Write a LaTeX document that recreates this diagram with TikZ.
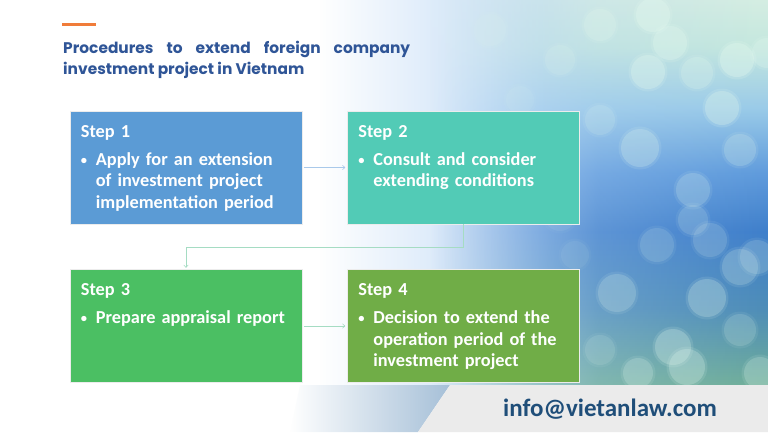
\documentclass[tikz,border=0pt]{standalone}
\usepackage{fontspec}
\setmainfont{Carlito}
\newfontfamily\titlefont{Poppins}
\usetikzlibrary{arrows.meta,fadings}
\definecolor{cOne}{HTML}{5B9BD5}
\definecolor{cTwo}{HTML}{52CBB6}
\definecolor{cThree}{HTML}{4BBF63}
\definecolor{cFour}{HTML}{70AD47}
\definecolor{titleblue}{HTML}{2F5597}
\definecolor{mailblue}{HTML}{1F4E79}
\definecolor{orangeline}{HTML}{F07C3A}
\definecolor{skyA}{HTML}{A9CCF3}
\definecolor{bandgray}{HTML}{EBEBEB}
\definecolor{arrowblue}{HTML}{A9C9EA}
\definecolor{arrowgreen}{HTML}{A5DCC3}
\definecolor{bokehc}{HTML}{E2F8EE}
\definecolor{stripblue}{HTML}{A6C0D8}
\definecolor{shA}{HTML}{6FAE98}
\definecolor{shB}{HTML}{4E8DB8}
\definecolor{shC}{HTML}{3F7FCB}
\definecolor{shD}{HTML}{5F9BDC}
\definecolor{shE}{HTML}{9ACBE8}
\definecolor{shF}{HTML}{C5E8DE}
\definecolor{shG}{HTML}{D5EEE2}
\pgfdeclareverticalshading{bkshade}{100bp}{color(0bp)=(shA); color(25bp)=(shA); color(35bp)=(shB); color(45bp)=(shC); color(52.5bp)=(shD); color(61bp)=(shE); color(69bp)=(shF); color(75bp)=(shG); color(100bp)=(shG)}
\tikzfading[name=fadeleft, left color=transparent!100, right color=transparent!0, middle color=transparent!25]
\tikzfading[name=fadestrip, left color=transparent!100, right color=transparent!0]
\newcommand\stepitem[1]{\par\vspace{6.5pt}\noindent\makebox[15pt][l]{\raisebox{1.2pt}{\fontsize{12.5}{12.5}\selectfont\textbullet}}\parbox[t]{205pt}{\raggedright #1}}
\tikzset{
  stepbox/.style={draw=white!85!gray, line width=0.6pt, minimum width=232pt, minimum height=113pt, inner sep=0pt},
  steptext/.style={anchor=north west, inner sep=0pt, text width=225pt, text=white, font=\fontsize{18.3}{21.5}\selectfont\bfseries},
  conn/.style={line width=0.6pt, -{To[length=3pt,width=5pt]}},
  bokeh/.style={fill=bokehc, draw=none},
  titletext/.style={anchor=base west, inner sep=0pt, text=titleblue, font=\titlefont\bfseries\fontsize{15.4}{18}\selectfont},
}
\begin{document}
\begin{tikzpicture}[x=1pt,y=-1pt]
\useasboundingbox (0,0) rectangle (768,432);
\fill[white] (0,0) rectangle (768,432);
% background bokeh area
\fill[skyA, path fading=fadeleft] (320,0) rectangle (768,385);
\shade[shading=bkshade, path fading=fadeleft] (430,0) rectangle (768,385);
\foreach \x/\y/\r/\o in {
  653/15/17/0.35, 670/43/17/0.3, 737/60/17/0.35, 648/72/17/0.3, 697/73/16/0.22, 767/53/15/0.25,
  722/108/17/0.28, 640/148/19/0.22, 693/190/17/0.18, 600/25/16/0.22, 560/60/15/0.14, 490/30/16/0.1,
  520/100/14/0.08, 600/120/15/0.14, 740/150/16/0.18,
  693/220/15/0.14, 657/245/17/0.13, 710/240/17/0.14, 740/267/18/0.18, 757/257/17/0.15,
  617/293/19/0.18, 707/298/19/0.22, 673/347/18/0.24, 687/367/18/0.24, 638/373/15/0.2, 760/373/16/0.2,
  560/215/16/0.07, 575/255/14/0.07, 600/350/15/0.12, 740/330/16/0.15}
  {\fill[bokeh, opacity=\o] (\x,\y) circle (\r);
   \fill[bokeh, opacity=0.5*\o] (\x,\y) circle (\r+2.5);}
% bottom band
\fill[stripblue, path fading=fadestrip] (300,385) -- (450,385) -- (418,432) -- (290,432) -- cycle;
\fill[bandgray] (450,385) -- (768,385) -- (768,432) -- (418,432) -- cycle;
% title
\draw[orangeline, line width=3pt] (62,24) -- (96,24);
\node[titletext] (title1) at (63,53) {\makebox[347pt][s]{Procedures to extend foreign company}};
\node[titletext] (title2) at (63,74) {investment project in Vietnam};
% boxes
\node[stepbox, fill=cOne] (s1) at (186,167.5) {};
\node[stepbox, fill=cTwo] (s2) at (463.5,167.5) {};
\node[stepbox, fill=cThree] (s3) at (186,326) {};
\node[stepbox, fill=cFour] (s4) at (463.5,326) {};
\node[steptext] (t1) at ([shift={(11,14.5)}]s1.north west) {Step 1\stepitem{Apply for an extension\\ of investment project\\ implementation period}};
\node[steptext] (t2) at ([shift={(11,14.5)}]s2.north west) {Step 2\stepitem{Consult and consider\\ extending conditions}};
\node[steptext] (t3) at ([shift={(11,14.5)}]s3.north west) {Step 3\stepitem{Prepare appraisal report}};
\node[steptext] (t4) at ([shift={(11,14.5)}]s4.north west) {Step 4\stepitem{Decision to extend the\\ operation period of the\\ investment project}};
% connectors
\draw[conn, arrowblue, shorten <=1.5pt, shorten >=2pt] (s1.east) -- (s2.west);
\draw[conn, arrowgreen, shorten <=1.5pt, shorten >=2pt] (s3.east) -- (s4.west);
\draw[conn, arrowgreen, shorten >=1.5pt] (s2.south) -- ++(0,23) -| (s3.north);
% email
\node[text=mailblue, font=\fontsize{25}{29}\selectfont\bfseries] (mail) at (610,409) {info@vietanlaw.com};
\end{tikzpicture}
\end{document}
